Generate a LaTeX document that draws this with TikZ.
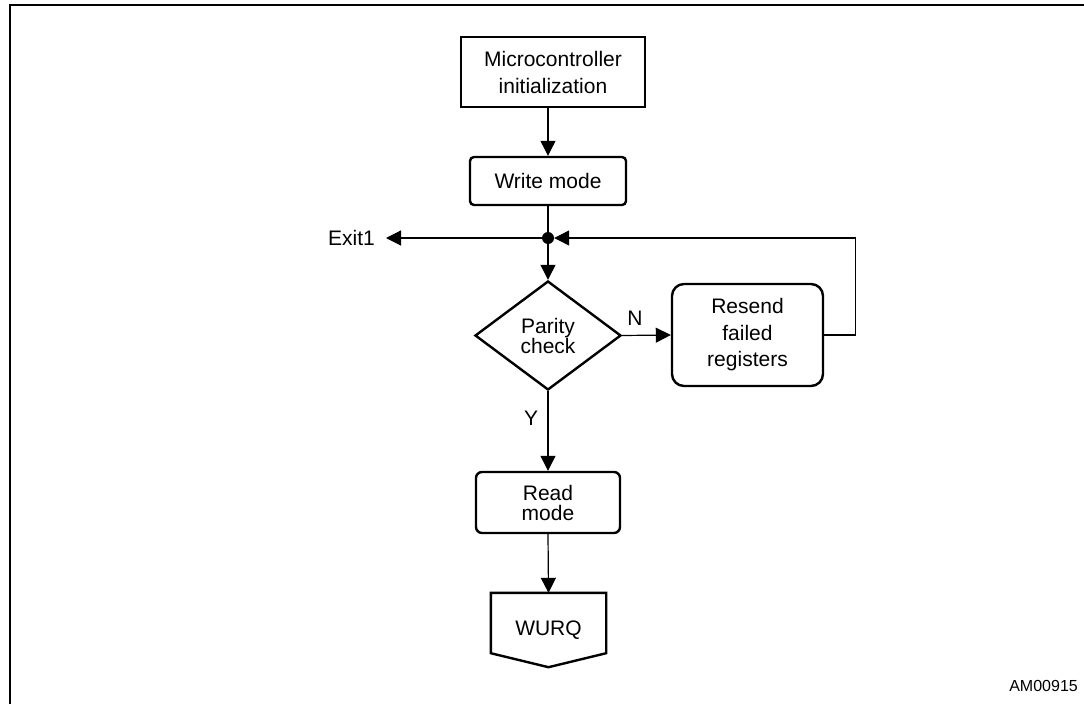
\documentclass[tikz,border=0pt]{standalone}
\usepackage{fontspec}
\setmainfont{Liberation Sans}
\usetikzlibrary{arrows.meta,shapes.geometric}
\tikzset{
  conn/.style={line width=1.2pt,-{Triangle[length=15pt,width=15pt]}},
  boxstyle/.style={draw,line width=2.4pt,inner sep=0pt,align=center},
  lbl/.style={inner sep=0pt,font=\fontsize{21}{25}\selectfont},
}
\begin{document}
\begin{tikzpicture}[x=1pt,y=-1pt]
\useasboundingbox (0,0) rectangle (1084,704);
\draw[line width=2pt] (10,704) -- (10,4.5) -- (1084,4.5);

\node[boxstyle,minimum width=184pt,minimum height=70pt,font=\fontsize{21}{27}\selectfont] (init) at (553,72) {Microcontroller\\initialization};
\node[boxstyle,rounded corners=4pt,minimum width=156pt,minimum height=48pt,font=\fontsize{21}{25}\selectfont] (write) at (548,181) {Write mode};
\node[circle,fill,inner sep=0pt,minimum size=12pt] (dot) at (548,238) {};
\node[lbl,anchor=east,inner xsep=11pt] (exit) at (386,238) {Exit1};
\node[boxstyle,diamond,minimum width=146pt,minimum height=109pt,font=\fontsize{21}{20}\selectfont] (par) at (548,335.5) {Parity\\check};
\node[boxstyle,rounded corners=12pt,minimum width=151pt,minimum height=102pt,font=\fontsize{21}{26.5}\selectfont] (resend) at (747.5,335) {Resend\\failed\\registers};
\node[boxstyle,rounded corners=6pt,minimum width=144pt,minimum height=61pt,font=\fontsize{21}{20}\selectfont] (read) at (548,502.5) {Read\\mode};
\node[inner sep=0pt,minimum width=115pt,minimum height=74pt,font=\fontsize{21}{25}\selectfont] (wurq) at (548.5,630) {WURQ};
\draw[line width=2.4pt,line join=miter] (wurq.north west) -- (wurq.north east) -- ([yshift=14pt]wurq.south east) -- (wurq.south) -- ([yshift=14pt]wurq.south west) -- cycle;

\node[lbl] (n) at (635,318) {N};
\node[lbl] (y) at (531,418) {Y};
\node[inner sep=0pt,anchor=east,font=\fontsize{16}{19}\selectfont] (am) at (1078,686) {AM00915};

\draw[conn] (init.south -| write.north) -- (write.north);
\draw[line width=1.2pt] (write.south) -- (dot.center);
\draw[conn] (dot) -- (exit);
\draw[conn] (dot) -- (par.north);
\draw[conn] (par.east) -- (resend.west);
\draw[conn] (resend.east) -- ++(31,0) |- (dot);
\draw[conn] (par.south) -- (read.north);
\draw[conn] (read.south) -- (wurq.north);
\end{tikzpicture}
\end{document}
